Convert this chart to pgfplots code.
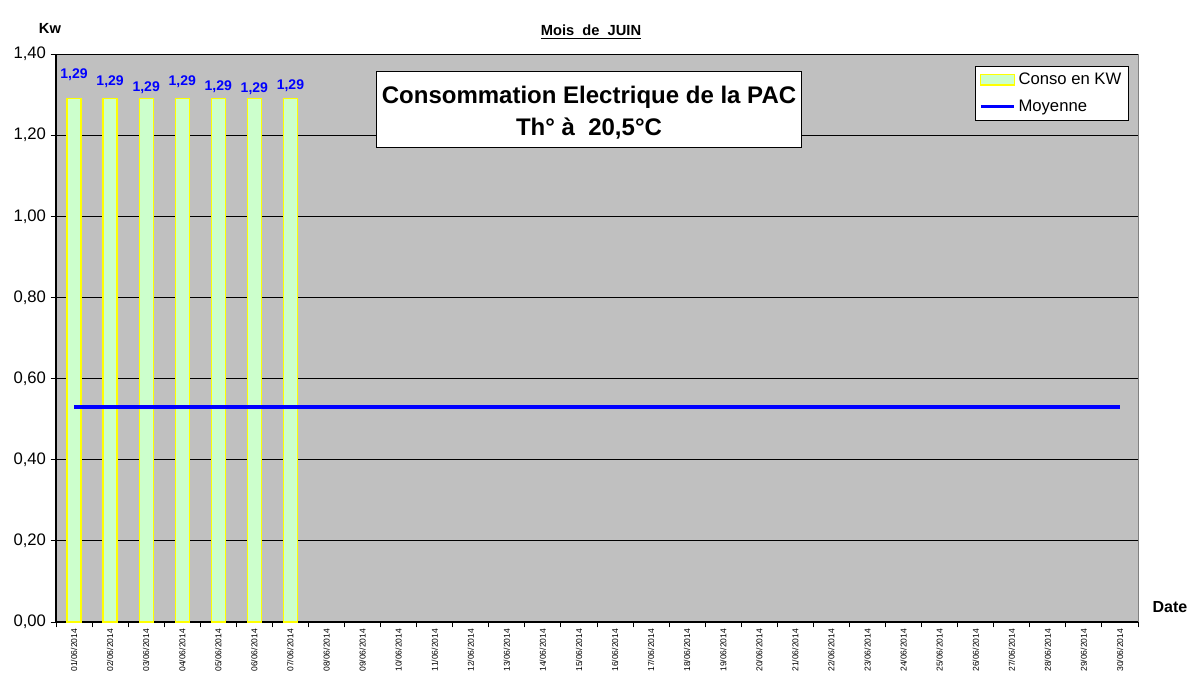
\documentclass[border=0pt]{standalone}
\usepackage{fontspec}
\setmainfont{Liberation Sans}
\usepackage{pgfplots}
\usepackage{pgfplotstable}
\pgfplotsset{compat=1.18}
\definecolor{plotbg}{HTML}{C0C0C0}
\definecolor{barfill}{HTML}{CCFFCC}
\definecolor{baredge}{HTML}{FFFF00}
\definecolor{labelblue}{HTML}{0000FF}
\pgfplotstableread{
x y dy lab
0 1.29 17.7 {1,29}
1 1.29 12.5 {1,29}
2 1.29 8.0 {1,29}
3 1.29 12.5 {1,29}
4 1.29 8.7 {1,29}
5 1.29 7.2 {1,29}
6 1.29 9.5 {1,29}
}\conso
\pgfplotstableread{
x y
0 0.53
29 0.53
}\moy
\begin{document}
\begin{tikzpicture}
\useasboundingbox (-42pt,-42.75pt) rectangle (855pt,466.5pt);
\begin{axis}[
  at={(0,0)}, anchor=south west,
  width=811.5pt, height=426pt, scale only axis,
  xmin=-0.5, xmax=29.5, ymin=0, ymax=1.4,
  axis background/.style={fill=plotbg, draw=gray},
  axis x line*=bottom, axis y line*=left,
  axis line style={-, black, line width=0.8pt},
  xtick={0,...,29},
  xticklabels={01/06/2014,02/06/2014,03/06/2014,04/06/2014,05/06/2014,06/06/2014,07/06/2014,08/06/2014,09/06/2014,10/06/2014,11/06/2014,12/06/2014,13/06/2014,14/06/2014,15/06/2014,16/06/2014,17/06/2014,18/06/2014,19/06/2014,20/06/2014,21/06/2014,22/06/2014,23/06/2014,24/06/2014,25/06/2014,26/06/2014,27/06/2014,28/06/2014,29/06/2014,30/06/2014},
  x tick label style={rotate=90, anchor=east, font=\fontsize{6.4}{7}\selectfont, inner sep=1pt},
  major x tick style={draw=none},
  minor xtick={-0.5,0.5,...,29.5},
  minor x tick style={black, line width=0.7pt},
  minor tick length=4pt,
  ytick={0,0.2,...,1.4},
  y tick label style={font=\fontsize{12.5}{14}\selectfont},
  yticklabel style={/pgf/number format/.cd, fixed, fixed zerofill, precision=2, use comma, assume math mode=true},
  major tick length=4pt,
  tick align=outside,
  y tick style={black, line width=0.7pt},
  ymajorgrids, grid style={black, line width=0.6pt},
  legend style={at={(0.991,0.979)}, anchor=north east, draw=black, fill=white,
    font=\fontsize{12.5}{14}\selectfont, row sep=6pt, inner xsep=3pt, inner ysep=3pt},
  legend cell align=left,
  clip=false,
]
\addplot[ybar, bar width=10.5pt, fill=barfill, draw=baredge, line width=1pt,
  nodes near coords,
  visualization depends on={\thisrow{dy} \as \dy},
  point meta=explicit symbolic,
  nodes near coords style={anchor=center, yshift=\dy pt, font=\fontsize{10.5}{12}\bfseries, text=labelblue},
  legend image code/.code={\draw[fill=barfill, draw=baredge, line width=0.8pt] (0pt,-4pt) rectangle (25pt,4pt);}
] table[x=x, y=y, meta=lab] {\conso};
\addlegendentry{Conso en KW}
\addplot[labelblue, line width=2.4pt, mark=none,
  legend image code/.code={\draw[labelblue, line width=2.4pt] (0pt,0pt) -- (25pt,0pt);}
] table[x=x, y=y] {\moy};
\addlegendentry{Moyenne}
\node[draw=black, fill=white, line width=0.6pt, minimum width=319pt, minimum height=57pt, align=center,
  font=\fontsize{18}{24}\bfseries] at (rel axis cs:0.4926,0.903) {};
\node[align=center, font=\fontsize{18}{24}\bfseries] at (rel axis cs:0.4926,0.897)
  {Consommation Electrique de la PAC\\Th° à\ \ 20,5°C};
\end{axis}
\node[font=\fontsize{11}{12}\bfseries] at (-4.5pt,445.5pt) {Kw};
\node[font=\fontsize{12}{14}\bfseries] at (835.5pt,11.25pt) {Date};
\node[font=\fontsize{11}{13}\bfseries] at (401.25pt,442.5pt) {\underline{Mois\ \ de\ \ JUIN}};
\end{tikzpicture}
\end{document}
